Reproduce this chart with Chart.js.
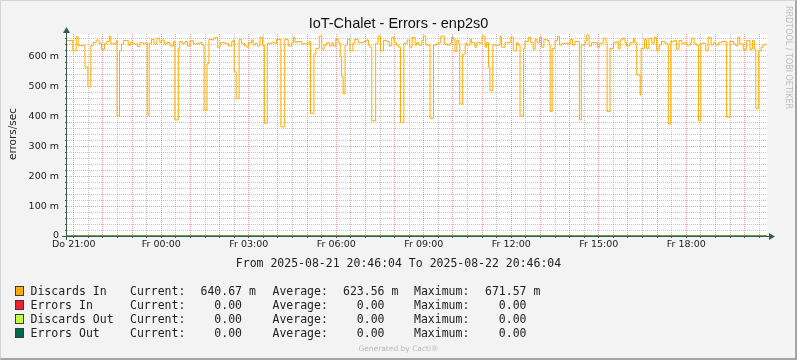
<!DOCTYPE html>
<html>
<head>
<meta charset="utf-8">
<script src="https://cdn.jsdelivr.net/npm/chart.js@4.4.1/dist/chart.umd.min.js"></script>
<style>
html,body{margin:0;padding:0;}
body{width:797px;height:360px;overflow:hidden;background:#f3f3f3;position:relative;}
#frame{position:absolute;left:0;top:0;width:797px;height:360px;box-sizing:border-box;border-left:1px solid #d4d4d4;border-top:1px solid #d4d4d4;border-right:2px solid #a4a4a4;border-bottom:2px solid #a4a4a4;pointer-events:none;}
#c{position:absolute;left:0;top:0;}
.t{position:absolute;white-space:pre;}
#title{left:0;width:797px;text-align:center;top:15px;font:14.5px "Liberation Sans",sans-serif;line-height:16px;color:#111;}
#ylab{left:-38px;top:128px;width:100px;text-align:center;font:10.5px "DejaVu Sans",sans-serif;line-height:12px;color:#222;transform:rotate(-90deg);}
#rrd{left:738px;top:51px;width:100px;text-align:center;font:8px "DejaVu Sans",sans-serif;line-height:10px;color:#bdbdbd;transform:rotate(90deg);}
#range{left:0;width:797px;text-align:center;top:256px;font:11.5px "DejaVu Sans Mono",monospace;line-height:14px;color:#222;}
.lg{font:11.5px "DejaVu Sans Mono",monospace;line-height:14px;color:#222;}
.sw{position:absolute;width:7px;height:8px;border:1px solid #3a3a3a;}
#gen{left:0;width:797px;text-align:center;top:344px;font:7.5px "DejaVu Sans",sans-serif;line-height:10px;color:#b8b8b8;}
</style>
</head>
<body>
<canvas id="c" width="797" height="360"></canvas>
<div id="title" class="t">IoT-Chalet - Errors - enp2s0</div>
<div id="ylab" class="t">errors/sec</div>
<div id="rrd" class="t">RRDTOOL / TOBI OETIKER</div>
<div id="range" class="t">From 2025-08-21 20:46:04 To 2025-08-22 20:46:04</div>
<div id="legend"></div>
<div id="gen" class="t">Generated by Cacti®</div>
<div id="frame"></div>
<script>
// ---- data (values in milli errors/sec; times in minutes after 2025-08-21 20:46:04) ----
const sampleMinutes = [0,12,19,23,37,43,49,54,60,66,71,77,82,87,90,101,103,108,112,116,126,131,136,145,150,157,162,165,169,174,179,185,191,195,200,205,212,219,222,229,232,237,243,248,253,260,267,274,278,282,288,292,298,301,306,310,315,325,332,339,342,344,348,354,359,365,370,374,380,383,387,392,397,402,406,412,421,428,431,440,448,455,462,466,469,473,483,498,501,508,512,519,524,529,534,540,545,548,553,558,562,565,568,572,577,582,588,592,599,610,615,620,623,627,635,640,645,651,658,663,668,673,678,682,686,693,700,705,710,716,719,724,730,733,738,747,754,760,764,769,776,781,788,791,795,798,802,805,808,814,819,822,829,832,839,843,850,854,860,863,867,870,876,891,894,901,913,918,925,928,932,939,942,949,954,959,963,967,972,976,981,987,992,994,998,1004,1009,1013,1018,1031,1035,1040,1045,1054,1058,1066,1069,1074,1079,1091,1096,1103,1109,1111,1117,1124,1131,1134,1138,1143,1148,1151,1158,1165,1168,1172,1179,1181,1188,1192,1197,1203,1208,1213,1218,1223,1230,1236,1237,1242,1249,1254,1259,1265,1270,1275,1282,1285,1290,1295,1299,1304,1314,1319,1325,1330,1334,1340,1347,1357,1364,1371,1376,1380,1384,1391,1398,1405,1410,1414,1417,1423,1428,1432,1436,1440];
const discardsIn = [653,619,666,636,564,499,636,646,655,644,624,642,650,668,642,652,401,619,641,653,638,648,642,633,646,642,647,404,644,657,642,661,646,655,642,646,635,650,388,627,650,644,650,635,652,642,644,646,638,421,575,657,655,661,664,631,646,644,635,650,655,549,460,657,644,635,631,646,655,638,644,635,664,638,377,644,646,644,657,365,657,635,646,664,646,650,642,650,410,608,627,668,624,638,646,635,646,635,657,646,599,533,475,638,657,619,644,657,646,650,655,638,631,385,644,668,619,653,650,635,664,646,638,631,379,644,655,631,664,638,646,638,653,668,638,393,638,642,646,668,642,638,644,664,657,616,655,644,441,608,644,638,657,646,631,646,644,668,631,646,564,486,638,668,631,646,664,619,646,638,401,627,650,664,646,624,657,646,664,631,657,653,638,416,627,653,668,638,644,642,657,638,650,388,638,650,671.6,635,646,631,644,661,646,416,627,646,650,627,655,661,646,635,646,661,646,538,471,627,657,627,661,644,664,619,638,650,644,638,374,650,653,624,653,642,646,638,646,661,642,638,385,644,619,664,638,646,638,646,650,397,650,642,635,664,642,624,653,624,653,624,427,619,631,638,640.7,640.7];
const zeroMinutes = [0, 1440];
const errorsIn = [0, 0];
const discardsOut = [0, 0];
const errorsOut = [0, 0];
const yTickValues = [0, 100, 200, 300, 400, 500, 600];
const yTickLabels = ['0', '100 m', '200 m', '300 m', '400 m', '500 m', '600 m'];
const xTickHours = [21, 24, 27, 30, 33, 36, 39, 42];
const xTickLabels = ['Do 21:00', 'Fr 00:00', 'Fr 03:00', 'Fr 06:00', 'Fr 09:00', 'Fr 12:00', 'Fr 15:00', 'Fr 18:00'];
const legendNames = ['Discards In', 'Errors In', 'Discards Out', 'Errors Out'];
const legendCurrent = ['640.67 m', '  0.00', '  0.00', '  0.00'];
const legendAverage = ['623.56 m', '  0.00', '  0.00', '  0.00'];
const legendMaximum = ['671.57 m', '  0.00', '  0.00', '  0.00'];

// ---- styles ----
const startHour = 20 + 46 / 60 + 4 / 3600;
const colors = ['#FFAB00', '#F51D30', '#C4FD3D', '#00694A'];
const MAJOR = 'rgba(235,120,120,0.75)';
const MINOR = 'rgba(150,150,150,0.55)';
const AXIS = '#3d5a50';

// legend DOM
const lg = document.getElementById('legend');
const rowTop = [283.5, 297.5, 311.5, 325.5];
legendNames.forEach((n, i) => {
  const sw = document.createElement('div');
  sw.className = 'sw';
  sw.style.left = '15px';
  sw.style.top = (rowTop[i] + 2) + 'px';
  sw.style.background = colors[i];
  lg.appendChild(sw);
  const parts = [[30.5, n], [130, 'Current:'], [200.5, legendCurrent[i]], [272.5, 'Average:'], [343, legendAverage[i]], [414, 'Maximum:'], [485, legendMaximum[i]]];
  parts.forEach(p => {
    const d = document.createElement('div');
    d.className = 't lg';
    d.style.left = p[0] + 'px';
    d.style.top = rowTop[i] + 'px';
    d.textContent = p[1];
    lg.appendChild(d);
  });
});

function toPts(xs, ys) { return xs.map((x, i) => ({x: x, y: ys[i]})); }

const plotBg = {
  id: 'plotBg',
  beforeDraw(chart) {
    const {ctx, chartArea: a} = chart;
    ctx.save();
    ctx.fillStyle = '#ffffff';
    ctx.fillRect(a.left, a.top, a.right - a.left, a.bottom - a.top);
    ctx.restore();
  }
};
const axes = {
  id: 'axes',
  afterDatasetsDraw(chart) {
    const {ctx, chartArea: a} = chart;
    ctx.save();
    ctx.strokeStyle = AXIS; ctx.fillStyle = AXIS; ctx.lineWidth = 1;
    const ax = a.left - 0.5, ay = a.bottom + 0.5;
    ctx.beginPath();
    ctx.moveTo(a.left - 5, ay); ctx.lineTo(a.right + 3, ay);
    ctx.moveTo(ax, a.bottom + 4); ctx.lineTo(ax, a.top - 2);
    ctx.stroke();
    ctx.beginPath();
    ctx.moveTo(ax, a.top - 7); ctx.lineTo(ax - 3.5, a.top - 1); ctx.lineTo(ax + 3.5, a.top - 1); ctx.closePath(); ctx.fill();
    ctx.beginPath();
    ctx.moveTo(a.right + 8, ay); ctx.lineTo(a.right + 2, ay - 3.5); ctx.lineTo(a.right + 2, ay + 3.5); ctx.closePath(); ctx.fill();
    ctx.restore();
  }
};

new Chart(document.getElementById('c'), {
  type: 'line',
  data: {
    datasets: [
      {label: 'Errors Out', data: toPts(zeroMinutes, errorsOut), borderColor: colors[3], borderWidth: 1, pointRadius: 0},
      {label: 'Discards Out', data: toPts(zeroMinutes, discardsOut), borderColor: colors[2], borderWidth: 1, pointRadius: 0},
      {label: 'Errors In', data: toPts(zeroMinutes, errorsIn), borderColor: colors[1], borderWidth: 1, pointRadius: 0},
      {label: 'Discards In', data: toPts(sampleMinutes, discardsIn), borderColor: colors[0], borderWidth: 1, pointRadius: 0, stepped: true}
    ]
  },
  options: {
    responsive: false,
    animation: false,
    devicePixelRatio: 1,
    layout: {padding: {top: 34, right: 30, bottom: 104, left: 0}},
    plugins: {legend: {display: false}, tooltip: {enabled: false}},
    scales: {
      x: {
        type: 'linear', min: 0, max: 1440,
        afterFit(s) { s.height = 20; },
        afterBuildTicks(s) {
          const t = [];
          for (let h = 21; h <= 44.5; h += 0.5) t.push({value: (h - startHour) * 60});
          s.ticks = t;
        },
        ticks: {
          autoSkip: false, maxRotation: 0, padding: 1, color: '#1a1a1a',
          font: {family: 'DejaVu Sans', size: 9.5},
          callback(v) {
            const h = Math.round((v / 60 + startHour) * 2) / 2;
            const k = xTickHours.indexOf(h);
            return k >= 0 ? xTickLabels[k] : '';
          }
        },
        grid: {
          lineWidth: 1, drawTicks: true, tickLength: 2, tickColor: AXIS, borderDash: [1, 1],
          color(ctx) {
            const h = ctx.tick.value / 60 + startHour;
            return Math.abs(h - Math.round(h)) < 0.01 ? MAJOR : MINOR;
          }
        },
        border: {display: false, dash: [1, 1]}
      },
      y: {
        type: 'linear', min: 0, max: 675,
        afterFit(s) { s.width = 67; },
        afterBuildTicks(s) {
          const t = [];
          for (let v = 0; v <= 660; v += 20) t.push({value: v});
          s.ticks = t;
        },
        ticks: {
          autoSkip: false, padding: 6, color: '#1a1a1a',
          font: {family: 'DejaVu Sans', size: 9.5},
          callback(v) {
            const k = yTickValues.indexOf(v);
            return k >= 0 ? yTickLabels[k] : '';
          }
        },
        grid: {
          lineWidth: 1, drawTicks: true, tickLength: 2, tickColor: AXIS, borderDash: [1, 1],
          color(ctx) { return ctx.tick.value % 100 === 0 ? MAJOR : MINOR; }
        },
        border: {display: false, dash: [1, 1]}
      }
    }
  },
  plugins: [plotBg, axes]
});
</script>
</body>
</html>
